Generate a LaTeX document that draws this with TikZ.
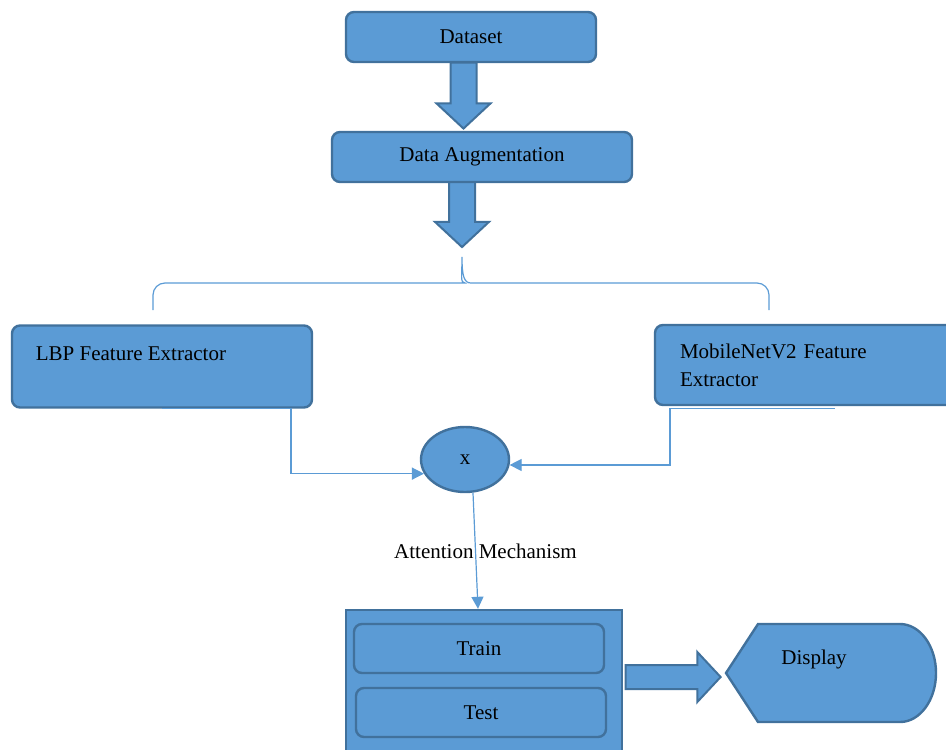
\documentclass[tikz,border=0pt]{standalone}
\usepackage{fontspec}
\setmainfont{Liberation Serif}
\usepackage{tikz}
\usetikzlibrary{positioning,arrows.meta,shapes.geometric,shapes.arrows}
\definecolor{boxfill}{HTML}{5B9BD5}
\definecolor{boxline}{HTML}{41719C}
\definecolor{linkline}{HTML}{5B9BD5}

\begin{document}
\begin{tikzpicture}[
  x=0.5pt, y=-0.5pt,
  every node/.style={font=\fontsize{10.5}{14}\selectfont},
  box/.style={draw=boxline, fill=boxfill, line width=1.2pt, rounded corners=4pt, inner sep=0pt, align=center},
  stage/.style={box, minimum height=25pt},
  extractor/.style={box, minimum width=150pt, minimum height=41pt},
  bigarrow/.style={single arrow, draw=boxline, fill=boxfill, line width=1pt, inner xsep=0pt, inner ysep=6pt,
    minimum width=0pt, single arrow head extend=7pt, single arrow tip angle=94},
  link/.style={draw=linkline, line width=0.6pt},
  >={Triangle[length=6pt,width=6pt]},
]
\useasboundingbox (0,0) rectangle (946,749);
\clip (0,0) rectangle (946,749);

% pipeline top
\node[stage, minimum width=125pt] (data) at (471,37) {Dataset};
\node[stage, minimum width=150pt] (aug) at (482,157) {Data Augmentation};
\node[bigarrow, rotate=-90, minimum height=33pt] (a1) at (463.5,89.5) {};
\node[bigarrow, rotate=-90, minimum height=32.5pt] (a2) at (462,208.5) {};

% split brace
\draw[link] (153,310) [rounded corners=6pt] |- (453,283) [sharp corners] .. controls (460,283) and (462,276) .. (462,257)
  .. controls (462,276) and (464,283) .. (471,283) [rounded corners=6pt] -| (769,310);

% extractors
\node[extractor, label={[anchor=west, xshift=9pt, yshift=-14.5pt]north west:LBP Feature Extractor}] (lbp) at (162,366.5) {};
\node[extractor, minimum height=40pt, text width=125pt, align=left] (mob) at (805,365) {MobileNetV2 Feature\\Extractor};
\node[box, ellipse, minimum width=44pt, minimum height=32.5pt] (mult) at (465,459.5) {x};

\draw[link, ->] (lbp.south) -- ++(129,0) |- (mult.199);
\draw[link, ->] ([xshift=15pt, yshift=-1pt]mob.south) -- ++(-165,0) |- (mult.353);

% train / test block
\node[box, rounded corners=0pt, minimum width=138pt, minimum height=80pt] (tt) at (484,690) {};
\node[box, minimum width=125pt, minimum height=24.5pt] (train) at (479,648.5) {Train};
\node[box, minimum width=125pt, minimum height=24.5pt] (test) at (481,712.5) {Test};
\draw[link, ->] ([xshift=4pt]mult.south) -- node[pos=0.5, xshift=5pt] {Attention Mechanism} ([xshift=-3pt]tt.north);

% output
\node[bigarrow, minimum height=47.5pt, inner ysep=5.5pt, single arrow head extend=6.5pt] (a3) at (667.5,677) {};
\draw[draw=boxline, fill=boxfill, line width=1.2pt] (726,673) -- (758,624) -- (900,624)
  arc[start angle=-90, end angle=90, x radius=36, y radius=49] -- (758,722) -- cycle;
\node (disp) at (814,659) {Display};
\end{tikzpicture}
\end{document}
